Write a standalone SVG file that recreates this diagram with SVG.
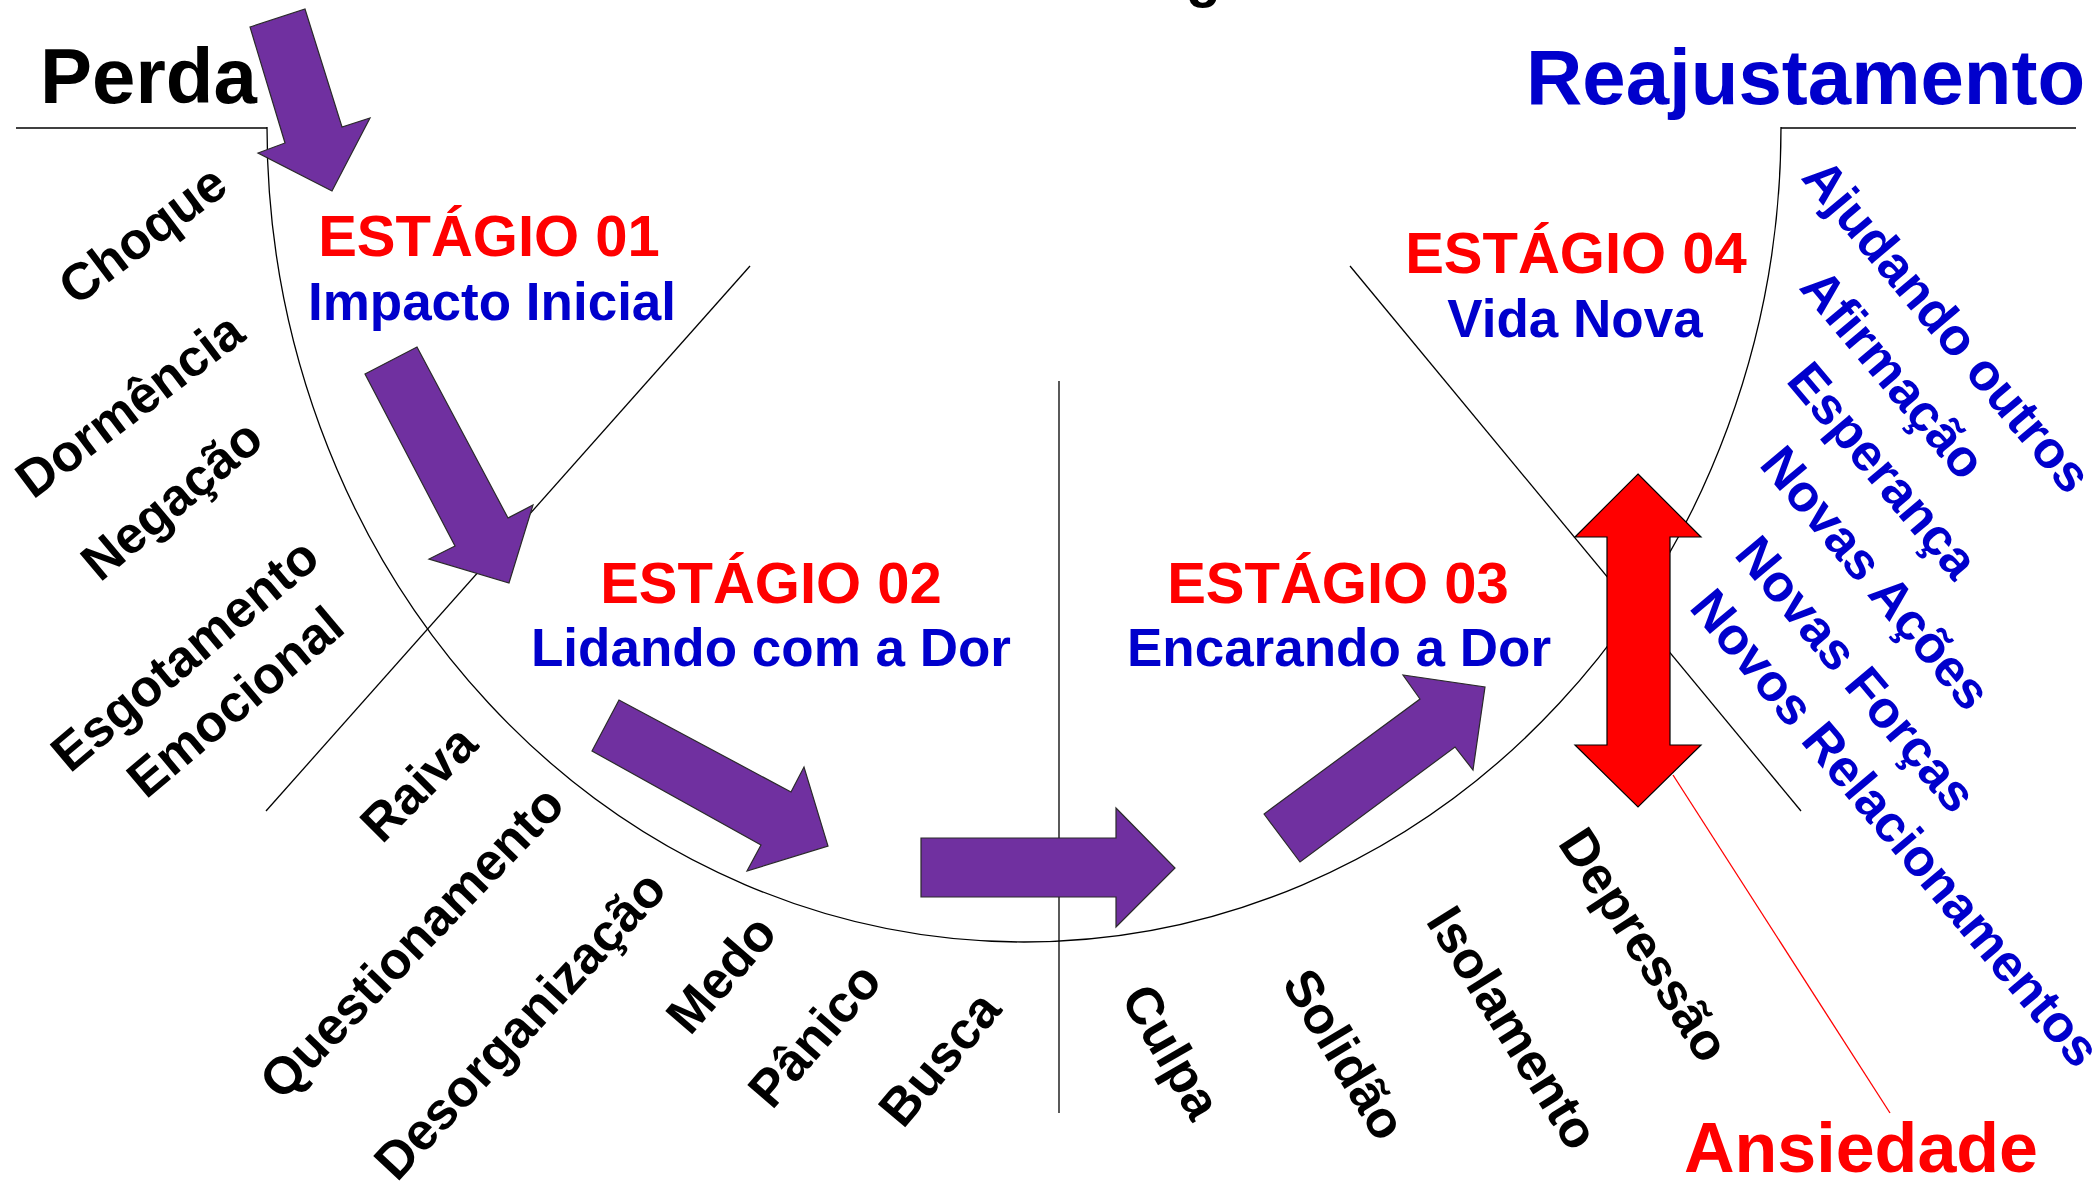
<svg xmlns="http://www.w3.org/2000/svg" width="2096" height="1192" viewBox="0 0 2096 1192">
<style>
text { font-family: "Liberation Sans", Arial, sans-serif; font-weight: bold; }
.lbl { font-size: 52px; fill: #000000; }
.blu { font-size: 52px; fill: #0000CC; }
.stg { font-size: 58px; fill: #FF0000; text-anchor: middle; }
.sub { font-size: 53px; fill: #0000CC; text-anchor: middle; }
.ttl { font-size: 78px; }
.ln { fill: none; stroke: #000000; stroke-width: 1.3; }
.parrow { fill: #7030A0; stroke: #2a2a2a; stroke-width: 1.2; stroke-linejoin: miter; }
.rarrow { fill: #FF0000; stroke: #000000; stroke-width: 1.2; }
</style>
<rect width="2096" height="1192" fill="#FFFFFF"/>

<text x="1186" y="-4" style="font-size:57px" fill="#000000">g</text>

<g id="connectors">
  <line class="ln" x1="16" y1="128" x2="267" y2="128"/>
  <line class="ln" x1="1781" y1="128" x2="2076" y2="128"/>
  <path class="ln" d="M267,127 A757,815 0 0 0 1781,127"/>
  <line class="ln" x1="750" y1="266" x2="266" y2="811"/>
  <line class="ln" x1="1350" y1="266" x2="1801" y2="811"/>
  <line class="ln" x1="1059" y1="381" x2="1059" y2="1113"/>
  <line x1="1673" y1="775" x2="1890" y2="1113" stroke="#FF0000" stroke-width="1.3"/>
  <polygon id="arrow1" class="parrow" points="250,27 305,9 342,127 370,118 332,191 258,153 285,143"/>
  <polygon id="arrow2" class="parrow" points="365,374 417,347 508,518 533,505 509,583 429,559 455,546"/>
  <polygon id="arrow3" class="parrow" points="619,700 592,751 761,845 747,871 828,846 804,767 791,792"/>
  <polygon id="arrow4" class="parrow" points="921,838 1116,838 1116,808 1175,868 1116,927 1116,897 921,897"/>
  <polygon id="arrow5" class="parrow" points="1264,814 1300,862 1455,747 1473,770 1485,687 1403,675 1420,699"/>
  <polygon id="arrow-ansiedade" class="rarrow" points="1638,474 1701,537 1670,537 1670,745 1701,745 1638,807 1575,745 1607,745 1607,537 1575,537"/>
</g>

<g id="perda">
  <text class="ttl" x="40" y="103" fill="#000000">Perda</text>
</g>
<g id="reajustamento">
  <text class="ttl" x="1526" y="104" fill="#0000CC">Reajustamento</text>
</g>

<g id="estagio01">
  <text class="stg" x="489" y="256">ESTÁGIO 01</text>
  <text class="sub" x="492" y="320">Impacto Inicial</text>
</g>
<g id="estagio02">
  <text class="stg" x="771" y="603">ESTÁGIO 02</text>
  <text class="sub" x="771" y="666">Lidando com a Dor</text>
</g>
<g id="estagio03">
  <text class="stg" x="1338" y="603">ESTÁGIO 03</text>
  <text class="sub" x="1339" y="666">Encarando a Dor</text>
</g>
<g id="estagio04">
  <text class="stg" x="1576" y="273">ESTÁGIO 04</text>
  <text class="sub" x="1575" y="337">Vida Nova</text>
</g>

<g id="labels-perda">
  <text class="lbl" transform="translate(76,307) rotate(-37)">Choque</text>
  <text class="lbl" transform="translate(33,500) rotate(-37)">Dormência</text>
  <text class="lbl" transform="translate(100,583) rotate(-40)">Negação</text>
  <text class="lbl" transform="translate(70,774) rotate(-40)">Esgotamento</text>
  <text class="lbl" transform="translate(146,800) rotate(-40)">Emocional</text>
</g>
<g id="labels-estagio2">
  <text class="lbl" transform="translate(382,845) rotate(-45)">Raiva</text>
  <text class="lbl" transform="translate(282,1102) rotate(-46)">Questionamento</text>
  <text class="lbl" transform="translate(397,1183) rotate(-47)">Desorganização</text>
  <text class="lbl" transform="translate(690,1037) rotate(-49)">Medo</text>
  <text class="lbl" transform="translate(772,1111) rotate(-49)">Pânico</text>
  <text class="lbl" transform="translate(903,1130) rotate(-50)">Busca</text>
</g>
<g id="labels-estagio3">
  <text class="lbl" transform="translate(1120,998) rotate(60)">Culpa</text>
  <text class="lbl" transform="translate(1281,983) rotate(59)">Solidão</text>
  <text class="lbl" transform="translate(1425,921) rotate(58)">Isolamento</text>
  <text class="lbl" transform="translate(1557,843) rotate(57)">Depressão</text>
</g>
<g id="labels-reajustamento">
  <text class="blu" transform="translate(1800,178) rotate(50)">Ajudando outros</text>
  <text class="blu" transform="translate(1798,288) rotate(50)">Afirmação</text>
  <text class="blu" transform="translate(1785,381) rotate(50)">Esperança</text>
  <text class="blu" transform="translate(1758,465) rotate(50)">Novas Ações</text>
  <text class="blu" transform="translate(1733,555) rotate(50)">Novas Forças</text>
  <text class="blu" transform="translate(1688,608) rotate(50)">Novos Relacionamentos</text>
</g>
<g id="ansiedade">
  <text x="1684" y="1172" style="font-size:70px" fill="#FF0000">Ansiedade</text>
</g>
</svg>
